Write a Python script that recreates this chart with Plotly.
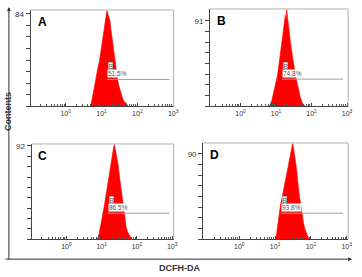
import plotly.graph_objects as go

W, H = 362, 277

# ---- data (log10 channel positions and counts) ----
a_bins = [0.66, 0.70, 0.74, 0.78, 0.82, 0.86, 0.90, 0.94, 0.98, 1.02, 1.06, 1.10, 1.13, 1.15, 1.18, 1.21,
          1.24, 1.27, 1.30, 1.33, 1.36, 1.39, 1.42, 1.45, 1.48, 1.51, 1.55, 1.59, 1.63, 1.67, 1.71, 1.75]
a_counts = [0, 1, 7, 15, 21, 28, 35, 41, 50, 58, 67, 75, 83, 87, 84, 81,
            77, 68, 60, 52, 45, 37, 30, 24, 19, 15, 10, 7, 4, 3.5, 1.5, 0]

b_bins = [0.80, 0.84, 0.88, 0.92, 0.96, 1.00, 1.04, 1.08, 1.11, 1.14, 1.17, 1.20, 1.23, 1.26, 1.28, 1.30,
          1.32, 1.35, 1.38, 1.40, 1.43, 1.46, 1.50, 1.54, 1.58, 1.63, 1.68, 1.74, 1.78, 1.82]
b_counts = [0, 2, 6, 12, 18, 26, 33, 44, 53, 61, 70, 79, 88, 97, 92, 103,
            96, 88, 77, 70, 61, 53, 44, 35, 27, 17, 10, 3.5, 1.5, 0]

c_bins = [0.86, 0.90, 0.93, 0.96, 0.99, 1.03, 1.06, 1.08, 1.12, 1.15, 1.19, 1.22, 1.26, 1.29, 1.32, 1.34,
          1.36, 1.38, 1.41, 1.44, 1.47, 1.49, 1.52, 1.54, 1.57, 1.60, 1.63, 1.66, 1.70, 1.74, 1.78, 1.82, 1.85]
c_counts = [0, 2, 6, 11, 17, 25, 30, 34, 43, 50, 59, 66, 75, 82, 87, 91,
            93.5, 90, 86, 82, 73, 66, 58, 50, 42, 34, 25, 17, 11, 7, 4, 1.5, 0]

d_bins = [1.02, 1.03, 1.05, 1.07, 1.09, 1.12, 1.15, 1.19, 1.24, 1.28, 1.33, 1.37, 1.41, 1.45, 1.49, 1.52,
          1.55, 1.58, 1.61, 1.63, 1.65, 1.68, 1.72, 1.75, 1.79, 1.83, 1.88, 1.92, 1.96]
d_counts = [0, 3, 6, 12, 18, 27, 36, 43, 53, 62, 71, 79, 88, 95, 101, 95,
            88, 79, 71, 62, 53, 45, 36, 27, 18, 11, 4.5, 2, 0]

panel_letters = ["A", "B", "C", "D"]
y_max_labels = [84, 91, 92, 90]
gate_pct = ["51.5%", "74.8%", "86.5%", "93.8%"]
gate_start = [1.14, 1.17, 1.17, 1.16]
gate_end = [2.90, 2.89, 2.93, 2.90]
gate_level = [24.4, 28.9, 25.7, 27.5]
x_tick_labels = ["10<sup>0</sup>", "10<sup>1</sup>", "10<sup>2</sup>", "10<sup>3</sup>"]
x_tick_pos = [1, 10, 100, 1000]

# ---- layout geometry (pixels) ----
boxes = [  # left, right, top, bottom
    (31, 176, 8, 105),
    (213, 353, 7, 105),
    (32, 176, 143, 239),
    (206, 353, 142, 239),
]
x_ranges = [(-0.98, 3.01), (-0.86, 3.03), (-0.99, 3.04), (-1.01, 3.04)]
y_ranges = [87.6, 103.7, 94.0, 101.5]
y_intervals = [8, 8, 9, 8]

bins_all = [a_bins, b_bins, c_bins, d_bins]
counts_all = [a_counts, b_counts, c_counts, d_counts]

FONT = "Liberation Sans, Arial, sans-serif"
fig = go.Figure()
layout = dict(
    width=W, height=H, margin=dict(l=0, r=0, t=0, b=0),
    paper_bgcolor="white", plot_bgcolor="white", showlegend=False,
    font=dict(family=FONT, color="#333"),
)
annotations = []
shapes = []

minor_vals = []
for dec in [0.1, 1, 10, 100]:
    for m in range(2, 10):
        minor_vals.append(dec * m)

for i in range(4):
    n = "" if i == 0 else str(i + 1)
    xa, ya = "x" + n, "y" + n
    l, r, t, b = boxes[i]
    xd = [l / W, r / W]
    yd = [1 - b / H, 1 - t / H]
    fig.add_trace(go.Scatter(
        x=[10 ** v for v in bins_all[i]], y=counts_all[i], mode="lines",
        fill="tozeroy", fillcolor="#ff0000", line=dict(color="#ff0000", width=0.6),
        xaxis=xa, yaxis=ya, hoverinfo="skip"))
    fig.add_trace(go.Scatter(
        x=[10 ** gate_start[i], 10 ** gate_end[i]], y=[gate_level[i], gate_level[i]],
        mode="lines", line=dict(color="#a0a0a0", width=1), xaxis=xa, yaxis=ya, hoverinfo="skip"))
    top = y_max_labels[i]
    k = y_intervals[i]
    tv = [top * j / k for j in range(k + 1)]
    tt = [""] * k + [str(top)]
    layout["xaxis" + n] = dict(
        domain=xd, anchor=ya, type="log", range=list(x_ranges[i]),
        tickvals=x_tick_pos, ticktext=x_tick_labels, ticks="inside", ticklen=3,
        tickcolor="#444", tickfont=dict(size=7, color="#333", family=FONT),
        showgrid=False, zeroline=False, showline=True, linecolor="#444", linewidth=1,
        minor=dict(tickvals=minor_vals, ticks="inside", ticklen=2, tickcolor="#555", showgrid=False),
    )
    layout["yaxis" + n] = dict(
        domain=yd, anchor=xa, range=[0, y_ranges[i]], tickvals=tv, ticktext=tt,
        ticks="outside", ticklen=4, tickcolor="#444",
        tickfont=dict(size=8, color="#333", family=FONT),
        showgrid=False, zeroline=False, showline=True, linecolor="#444", linewidth=1,
    )
    # light box top/right
    shapes.append(dict(type="line", xref="paper", yref="paper", x0=xd[0], x1=xd[1], y0=yd[1], y1=yd[1],
                       line=dict(color="#b0b0b0", width=1)))
    shapes.append(dict(type="line", xref="paper", yref="paper", x0=xd[1], x1=xd[1], y0=yd[0], y1=yd[1],
                       line=dict(color="#b0b0b0", width=1)))
    # panel letter
    annotations.append(dict(xref="paper", yref="paper", x=(l + 5) / W, y=1 - (t + 3) / H,
                            xanchor="left", yanchor="top", showarrow=False, text="<b>%s</b>" % panel_letters[i],
                            font=dict(size=12, color="black", family=FONT)))
    # gate labels
    annotations.append(dict(xref=xa, yref=ya, x=gate_start[i], y=gate_level[i], xanchor="left", yanchor="bottom",
                            showarrow=False, text=gate_pct[i], bgcolor="white", borderpad=0, yshift=1,
                            font=dict(size=6.5, color="#555", family=FONT)))
    annotations.append(dict(xref=xa, yref=ya, x=gate_start[i], y=gate_level[i], xanchor="left", yanchor="bottom",
                            showarrow=False, text="B", bgcolor="white", borderpad=0, bordercolor="#999",
                            borderwidth=0.5, yshift=9, xshift=1,
                            font=dict(size=6.5, color="#555", family=FONT)))

# outer L axes with arrows
annotations.append(dict(xref="paper", yref="paper", x=9 / W, y=1 - 5 / H, ax=0, ay=254,
                        axref="pixel", ayref="pixel", showarrow=True, arrowhead=2, arrowsize=0.8,
                        arrowwidth=1, arrowcolor="#333", text=""))
annotations.append(dict(xref="paper", yref="paper", x=357 / W, y=1 - 259 / H, ax=-348, ay=0,
                        axref="pixel", ayref="pixel", showarrow=True, arrowhead=2, arrowsize=0.8,
                        arrowwidth=1, arrowcolor="#333", text=""))
annotations.append(dict(xref="paper", yref="paper", x=8 / W, y=1 - 110 / H, textangle=-90,
                        showarrow=False, text="<b>Contents</b>", xanchor="center", yanchor="middle",
                        font=dict(size=9, color="#333", family=FONT)))
annotations.append(dict(xref="paper", yref="paper", x=182 / W, y=1 - 268 / H,
                        showarrow=False, text="<b>DCFH-DA</b>", xanchor="center", yanchor="middle",
                        font=dict(size=9, color="#333", family=FONT)))

layout["annotations"] = annotations
layout["shapes"] = shapes
fig.update_layout(**layout)
fig.write_html("out.html")
